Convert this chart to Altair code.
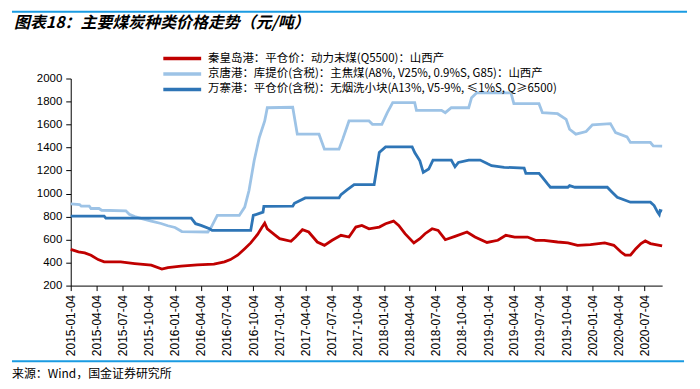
import altair as alt
import pandas as pd

title_text = "图表18：主要煤炭种类价格走势（元/吨）"
source_text = "来源：Wind，国金证券研究所"

series_names = [
    "秦皇岛港：平仓价：动力末煤(Q5500)：山西产",
    "京唐港：库提价(含税)：主焦煤(A8%, V25%, 0.9%S, G85)：山西产",
    "万寨港：平仓价(含税)：无烟洗小块(A13%, V5-9%, ≤1%S, Q≥6500)",
]
series_colors = ["#C00000", "#9DC3E6", "#2E75B6"]

x_tick_labels = [
    "2015-01-04", "2015-04-04", "2015-07-04", "2015-10-04",
    "2016-01-04", "2016-04-04", "2016-07-04", "2016-10-04",
    "2017-01-04", "2017-04-04", "2017-07-04", "2017-10-04",
    "2018-01-04", "2018-04-04", "2018-07-04", "2018-10-04",
    "2019-01-04", "2019-04-04", "2019-07-04", "2019-10-04",
    "2020-01-04", "2020-04-04", "2020-07-04",
]
x_domain = ["2015-01-04", "2020-09-04"]
y_ticks = [200, 400, 600, 800, 1000, 1200, 1400, 1600, 1800, 2000]

# 秦皇岛港
qhd_dates = [
    "2015-01-04", "2015-01-31", "2015-02-22", "2015-03-16", "2015-04-10", "2015-05-01",
    "2015-06-28", "2015-08-16", "2015-10-13", "2015-11-19", "2015-12-10", "2016-01-25",
    "2016-03-22", "2016-05-19", "2016-06-25", "2016-07-16", "2016-08-10", "2016-09-04",
    "2016-09-25", "2016-10-19", "2016-11-04", "2016-11-13", "2016-11-22", "2016-12-16",
    "2017-01-04", "2017-02-13", "2017-03-01", "2017-03-25", "2017-04-16", "2017-05-16",
    "2017-06-10", "2017-07-07", "2017-08-07", "2017-09-04", "2017-09-28", "2017-10-19",
    "2017-11-13", "2017-12-19", "2018-01-10", "2018-02-07", "2018-02-25", "2018-03-19",
    "2018-04-19", "2018-05-10", "2018-05-28", "2018-06-22", "2018-07-13", "2018-08-07",
    "2018-09-10", "2018-10-22", "2018-11-19", "2018-12-31", "2019-02-07", "2019-03-07",
    "2019-04-07", "2019-05-22", "2019-06-19", "2019-07-19", "2019-09-04", "2019-10-10",
    "2019-11-13", "2019-12-28", "2020-02-16", "2020-03-19", "2020-04-13", "2020-04-28",
    "2020-05-16", "2020-06-04", "2020-06-22", "2020-07-07", "2020-07-25", "2020-09-04",
]
qhd_values = [
    515, 493, 484, 464, 426, 406,
    406, 392, 377, 343, 357, 369,
    380, 386, 406, 426, 464, 521,
    571, 645, 709, 743, 694, 645,
    608, 585, 622, 686, 666, 579,
    550, 594, 637, 622, 709, 723,
    694, 709, 738, 761, 723, 651,
    571, 608, 651, 694, 680, 599,
    628, 666, 622, 575, 594, 637,
    622, 622, 594, 594, 579, 571,
    550, 556, 571, 550, 492, 464,
    464, 521, 565, 588, 565, 545,
]

# 京唐港
jtg_dates = [
    "2015-01-04", "2015-02-04", "2015-02-10", "2015-03-10", "2015-03-16", "2015-04-13",
    "2015-04-22", "2015-07-16", "2015-07-28", "2015-08-16", "2015-09-13", "2015-10-13",
    "2015-11-16", "2015-12-10", "2016-01-04", "2016-01-28", "2016-04-28", "2016-05-10",
    "2016-05-31", "2016-08-16", "2016-09-04", "2016-09-19", "2016-10-07", "2016-10-25",
    "2016-11-13", "2016-11-22", "2017-02-19", "2017-03-07", "2017-05-22", "2017-06-10",
    "2017-07-31", "2017-08-13", "2017-09-04", "2017-11-13", "2017-11-25", "2017-12-28",
    "2018-01-16", "2018-02-04", "2018-04-22", "2018-04-28", "2018-07-25", "2018-08-07",
    "2018-08-28", "2018-10-28", "2018-11-07", "2018-11-25", "2019-03-25", "2019-04-04",
    "2019-07-01", "2019-07-13", "2019-09-04", "2019-10-04", "2019-10-16", "2019-11-07",
    "2019-12-13", "2020-01-04", "2020-03-07", "2020-03-25", "2020-05-04", "2020-05-16",
    "2020-07-25", "2020-08-04", "2020-09-04",
]
jtg_values = [
    910, 905, 890, 890, 870, 870,
    855, 850, 820, 800, 780, 760,
    740, 720, 705, 670, 666, 709,
    810, 810, 882, 1026, 1285, 1487,
    1631, 1746, 1750, 1516, 1516, 1386,
    1386, 1473, 1631, 1631, 1602, 1602,
    1703, 1790, 1790, 1723, 1723, 1703,
    1746, 1746, 1833, 1876, 1876, 1781,
    1781, 1703, 1694, 1645, 1559, 1516,
    1539, 1597, 1608, 1530, 1493, 1444,
    1444, 1415, 1412,
]

# 万寨港
wzg_dates = [
    "2015-01-04", "2015-05-01", "2015-05-07", "2016-03-01", "2016-03-16", "2016-04-04",
    "2016-05-04", "2016-05-13", "2016-09-25", "2016-10-04", "2016-11-07", "2016-11-10",
    "2017-02-19", "2017-02-25", "2017-04-04", "2017-07-31", "2017-08-07", "2017-08-28",
    "2017-09-22", "2017-12-01", "2017-12-07", "2017-12-19", "2018-01-10", "2018-04-13",
    "2018-04-22", "2018-05-10", "2018-05-22", "2018-06-10", "2018-06-25", "2018-08-28",
    "2018-09-10", "2018-09-22", "2018-10-28", "2018-12-07", "2019-01-04", "2019-01-16",
    "2019-03-01", "2019-05-10", "2019-05-16", "2019-07-01", "2019-07-13", "2019-07-31",
    "2019-08-10", "2019-10-10", "2019-10-16", "2019-11-04", "2020-02-25", "2020-03-13",
    "2020-03-31", "2020-05-16", "2020-07-25", "2020-08-07", "2020-08-19", "2020-08-25",
    "2020-08-28", "2020-09-04",
]
wzg_values = [
    804, 804, 787, 787, 738, 723,
    694, 680, 680, 810, 839, 888,
    890, 916, 962, 962, 991, 1032,
    1078, 1078, 1170, 1357, 1406, 1406,
    1357, 1285, 1184, 1213, 1291, 1291,
    1233, 1271, 1291, 1291, 1256, 1242,
    1228, 1222, 1176, 1176, 1141, 1084,
    1055, 1055, 1069, 1055, 1055, 1012,
    968, 925, 925, 896, 839, 818,
    853, 847,
]

frames = []
for name, dates, values in [
    (series_names[0], qhd_dates, qhd_values),
    (series_names[1], jtg_dates, jtg_values),
    (series_names[2], wzg_dates, wzg_values),
]:
    frames.append(pd.DataFrame({"date": dates, "price": values, "series": name}))
df = pd.concat(frames, ignore_index=True)


def dt(s):
    y, m, d = (int(p) for p in s.split("-"))
    return alt.DateTime(year=y, month=m, date=d, utc=True)


FONT_CJK = "Noto Sans CJK SC"
FONT_NUM = "Liberation Sans"

lines = alt.Chart(df).mark_line(strokeWidth=2.8).encode(
    x=alt.X(
        "date:T",
        scale=alt.Scale(type="utc", domain=[dt(x_domain[0]), dt(x_domain[1])]),
        axis=alt.Axis(
            values=[dt(s) for s in x_tick_labels],
            format="%Y-%m-%d",
            labelAngle=-90,
            tickSize=5,
            labelPadding=4,
            labelFont=FONT_NUM,
            labelFontSize=12,
            labelColor="black",
            domainColor="black",
            tickColor="black",
            grid=False,
            title=None,
            labelOverlap=False,
        ),
    ),
    y=alt.Y(
        "price:Q",
        scale=alt.Scale(domain=[200, 2000], nice=False),
        axis=alt.Axis(
            values=y_ticks,
            format="d",
            tickSize=5,
            labelPadding=4,
            labelFont=FONT_NUM,
            labelFontSize=11.5,
            labelColor="black",
            domainColor="black",
            tickColor="black",
            grid=False,
            title=None,
        ),
    ),
    color=alt.Color(
        "series:N",
        scale=alt.Scale(domain=series_names, range=series_colors),
        legend=alt.Legend(
            orient="none",
            legendX=119,
            legendY=-27,
            direction="vertical",
            title=None,
            symbolType="M-6.6,0H1",
            symbolSize=100,
            symbolStrokeWidth=3.5,
            labelFont=FONT_CJK,
            labelFontSize=11.5,
            labelColor="black",
            labelOffset=5,
            labelLimit=0,
            rowPadding=1.5,
        ),
    ),
)

text_df = pd.DataFrame({"t": [title_text]})
title = alt.Chart(text_df).mark_text(
    align="left", baseline="middle", font=FONT_CJK, fontSize=16,
    fontWeight="bold", fontStyle="italic", color="black",
).encode(text="t:N", x=alt.value(-57), y=alt.value(-56))

src_df = pd.DataFrame({"t": [source_text]})
source = alt.Chart(src_df).mark_text(
    align="left", baseline="middle", font=FONT_CJK, fontSize=12, color="black",
).encode(text="t:N", x=alt.value(-59), y=alt.value(297))

rule_top = alt.Chart(text_df).mark_rule(color="#1A9BE2", strokeWidth=2).encode(
    x=alt.value(-59), x2=alt.value(619), y=alt.value(-67)
)
rule_bottom = alt.Chart(text_df).mark_rule(color="#1A9BE2", strokeWidth=2).encode(
    x=alt.value(-59), x2=alt.value(616), y=alt.value(284)
)

chart = alt.layer(lines, title, source, rule_top, rule_bottom).properties(
    width=594,
    height=208,
    autosize=alt.AutoSizeParams(type="none"),
    padding={"left": 63, "top": 70, "right": 30, "bottom": 95},
).configure_view(stroke=None)

chart.save("out.html", embed_options={"renderer": "svg", "actions": False})
